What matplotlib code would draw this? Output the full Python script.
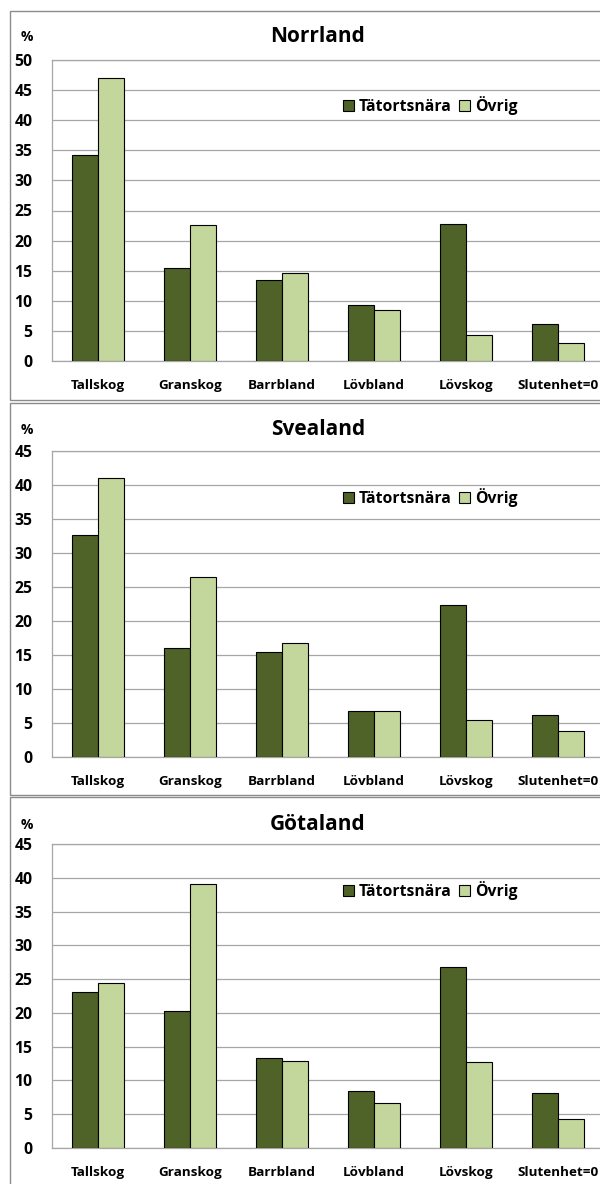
import matplotlib.pyplot as plt
from matplotlib.patches import Rectangle
import numpy as np

plt.rcParams['font.family'] = ['Open Sans', 'DejaVu Sans']
plt.rcParams['font.weight'] = 'bold'

categories = ["Tallskog", "Granskog", "Barrbland", "Lövbland", "Lövskog", "Slutenhet=0"]
series_names = ["Tätortsnära", "Övrig"]
regions = ["Norrland", "Svealand", "Götaland"]

norrland_tatort = [34.2, 15.4, 13.4, 9.3, 22.7, 6.2]
norrland_ovrig = [47.0, 22.6, 14.6, 8.4, 4.4, 3.0]
svealand_tatort = [32.7, 16.1, 15.5, 6.8, 22.3, 6.2]
svealand_ovrig = [41.0, 26.4, 16.7, 6.7, 5.5, 3.8]
gotaland_tatort = [23.1, 20.3, 13.3, 8.5, 26.8, 8.1]
gotaland_ovrig = [24.4, 39.1, 12.9, 6.7, 12.7, 4.3]
ymax = [50, 45, 45]

dark = "#4F6228"
light = "#C3D69B"
W, H = 600, 1184

fig = plt.figure(figsize=(W / 100, H / 100), dpi=100)

def fx(px):
    return px / W

def fy(py):
    return 1 - py / H

# frame top, frame bottom, axes top, axes bottom, title y (pixels)
panels = [
    (11, 400, 60, 361, 36),
    (403, 795, 451, 757, 429),
    (797, 1192, 844, 1148, 824),
]
data = [
    (norrland_tatort, norrland_ovrig),
    (svealand_tatort, svealand_ovrig),
    (gotaland_tatort, gotaland_ovrig),
]

x = np.arange(len(categories))
w = 0.283

for i, (ftop, fbot, atop, abot, ty) in enumerate(panels):
    fig.patches.append(Rectangle((fx(9.5), fy(fbot)), fx(700), fy(ftop) - fy(fbot),
                                 transform=fig.transFigure, fill=False,
                                 edgecolor="#8C8C8C", linewidth=1.0))
    ax = fig.add_axes([fx(52), fy(abot), fx(552), fy(atop) - fy(abot)])
    t, o = data[i]
    ax.bar(x - w / 2, t, width=w, color=dark, edgecolor="black", linewidth=0.8,
           label=series_names[0], zorder=3)
    ax.bar(x + w / 2, o, width=w, color=light, edgecolor="black", linewidth=0.8,
           label=series_names[1], zorder=3)
    ax.set_xlim(-0.5, 5.5)
    ax.set_ylim(0, ymax[i])
    ax.set_yticks(np.arange(0, ymax[i] + 1, 5))
    ax.set_xticks(x)
    ax.set_xticklabels(categories, fontsize=9.7, fontweight="bold")
    ax.tick_params(axis="y", length=0, pad=14, labelsize=11.3)
    ax.tick_params(axis="x", length=0, pad=13)
    for lab in ax.get_yticklabels():
        lab.set_fontweight("bold")
    ax.grid(axis="y", color="#A6A6A6", linewidth=0.9, zorder=0)
    for s in ax.spines.values():
        s.set_color("#A6A6A6")
        s.set_linewidth(0.9)
    ax.legend(loc="center", bbox_to_anchor=(0.685, 0.848), ncol=2, frameon=False,
              handlelength=0.7, handleheight=0.7, handletextpad=0.3,
              columnspacing=0.5, prop={"weight": "bold", "size": 11.3})
    fig.text(fx(318), fy(ty), regions[i], ha="center", va="center",
             fontsize=15, fontweight="bold")
    fig.text(fx(27), fy(ty + 1), "%", ha="center", va="center",
             fontsize=10, fontweight="bold")

fig.savefig("out.png", dpi=100)
